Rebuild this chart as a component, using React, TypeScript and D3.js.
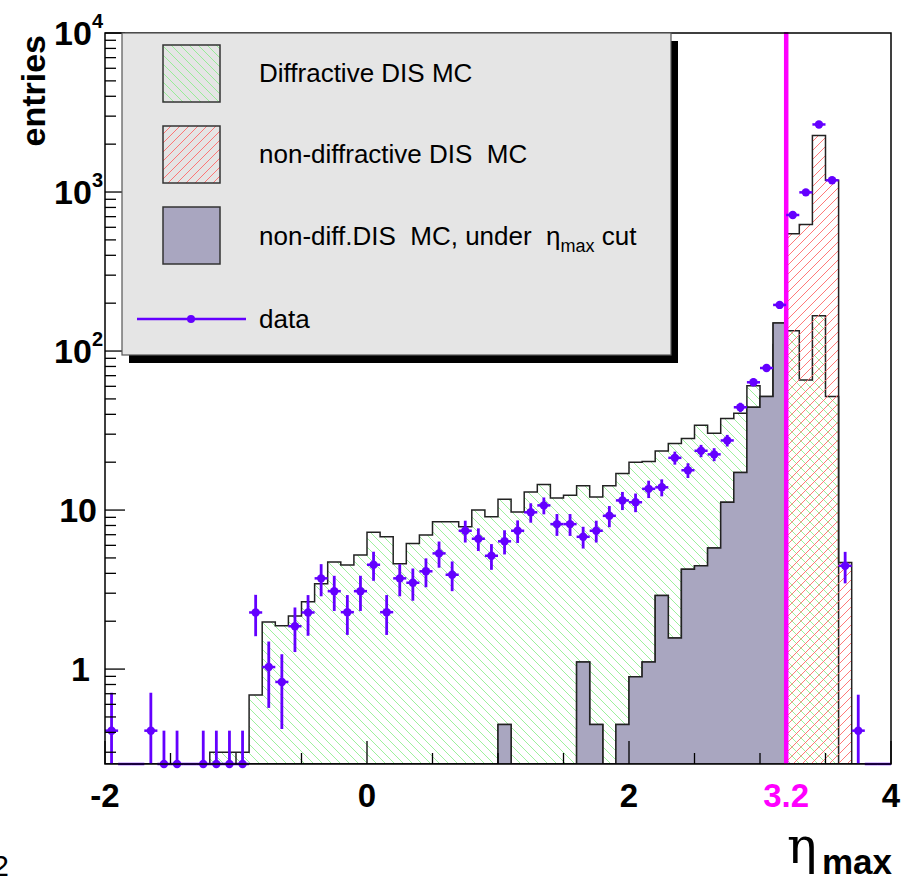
import React from 'react';
import * as d3 from 'd3';

// ---------- data ----------
const binLow = -2;
const binWidth = 0.1;
const etaCut = 3.2;

// Diffractive DIS MC (60 bins, -2..4)
const diffMC = [
  0, 0, 0, 0, 0, 0, 0, 0, 0.3, 0.3,
  0.3, 0.686, 1.98, 1.87, 2.16, 2.65, 3.44, 4.72, 4.51, 5.21,
  7.24, 6.79, 4.6, 6.17, 6.96, 8.44, 8.44, 7.85, 10.0, 9.08,
  11.7, 9.71, 13.0, 14.5, 11.9, 12.4, 14.2, 12.1, 14.2, 17.0,
  20.0, 20.2, 23.5, 26.2, 28.2, 34.1, 30.4, 37.7, 40.6, 60.5,
  45, 110, 134, 65.7, 167, 51.7, 0, 0, 0, 0,
];

// non-diffractive DIS MC (60 bins)
const nonDiffMC = [
  0, 0, 0, 0, 0, 0, 0, 0, 0, 0,
  0, 0, 0, 0, 0, 0, 0, 0, 0, 0,
  0, 0, 0, 0, 0, 0, 0, 0, 0, 0,
  0.449, 0, 0, 0, 0, 0, 1.11, 0.449, 0, 0.449,
  0.895, 1.11, 2.9, 1.57, 4.24, 4.46, 5.77, 11.2, 17.2, 44.3,
  51.7, 150, 546, 625, 2265, 1185, 4.68, 0, 0, 0,
];

// data points
const dataVal = [
  0.41, 0, 0, 0.41, 0, 0, 0, 0, 0, 0,
  0, 2.27, 1.03, 0.83, 1.86, 2.27, 3.72, 3.09, 2.28, 3.09,
  4.53, 2.28, 3.72, 3.49, 4.12, 5.34, 3.92, 7.41, 6.6, 5.16,
  6.36, 7.41, 9.68, 10.7, 8.16, 8.16, 6.79, 7.41, 9.2, 11.5,
  11.2, 13.6, 13.9, 21.3, 17.8, 23.6, 22.4, 27.4, 44.3, 63.6,
  78.2, 195, 717, 995, 2660, 1185, 4.46, 0.41, 0, 0,
];
const dataErr = [
  0.3, 0, 0, 0.3, 0.41, 0.41, 0, 0.41, 0.41, 0.41,
  0.41, 0.66, 0.46, 0.41, 0.58, 0.65, 0.85, 0.77, 0.64, 0.77,
  0.94, 0.64, 0.85, 0.8, 0.85, 1.0, 0.83, 1.16, 1.07, 0.95,
  1.1, 1.2, 1.35, 1.3, 1.28, 1.28, 1.06, 1.16, 1.4, 1.5,
  1.5, 1.7, 1.7, 2.0, 1.9, 2.1, 2.1, 2.3, 3.0, 3.5,
  4, 6, 12, 14, 23, 15, 1.0, 0.28, 0, 0,
];

const xTickValues = [-2, 0, 2, 4];
const xTickLabels = ['-2', '0', '2', '4'];
const yTickValues = [1, 10, 100, 1000, 10000];
const yTickLabels = [['1', ''], ['10', ''], ['10', '2'], ['10', '3'], ['10', '4']];
const legendLabels = ['Diffractive DIS MC', 'non-diffractive DIS  MC', 'non-diff.DIS  MC, under  ', 'data'];

// ---------- layout ----------
const W = 904;
const H = 877;
const L = 105, R = 891, T = 33, B = 764;
const yMin = 0.253, yMax = 1e4;
const FONT = '"Liberation Sans", Arial, Helvetica, sans-serif';
const DATA_C = '#6400ff';
const MAG = '#ff00ff';
const PURPLE = '#a9a6c0';

const x = d3.scaleLinear().domain([-2, 4]).range([L, R]);
const y = d3.scaleLog().domain([yMin, yMax]).range([B, T]);
const yc = (v: number) => (v > yMin ? Math.max(T, y(v)) : B);
const lo = (i: number) => binLow + i * binWidth;
const hi = (i: number) => binLow + (i + 1) * binWidth;

function stepPath(vals: number[], n: number) {
  let p = `M${x(lo(0))},${B}`;
  for (let i = 0; i < n; i++) {
    p += `L${x(lo(i))},${yc(vals[i])}L${x(hi(i))},${yc(vals[i])}`;
  }
  p += `L${x(hi(n - 1))},${B}Z`;
  return p;
}

export default function App() {
  const n = diffMC.length;
  const nCut = d3.range(n).filter((i) => lo(i) + binWidth / 2 < etaCut).length;
  const underCut = nonDiffMC.slice(0, nCut);

  const minorX = d3.range(-2, 4.001, 0.5).filter((v) => Math.abs(v - Math.round(v / 2) * 2) > 1e-6);
  const minorY: number[] = [];
  for (let d = -1; d <= 3; d++) for (let k = 2; k <= 9; k++) {
    const v = k * Math.pow(10, d);
    if (v > yMin && v < yMax) minorY.push(v);
  }

  const lgX = 122, lgY = 33, lgW = 549, lgH = 322;
  const swX = 163, swS = 57;
  const swY = [45, 126, 207];
  const txtX = 259;
  const txtBase = [82, 163, 245, 328];
  const pre = { whiteSpace: 'pre' as const };

  return (
    <svg width={W} height={H} style={{ display: 'block', position: 'absolute', left: 0, top: 0 }} fontFamily={FONT}>
      <defs>
        <pattern id="hGreen" patternUnits="userSpaceOnUse" width={9} height={9}>
          <path d="M-2,-2L11,11M-2,7L2,11M7,-2L11,2" stroke="#84ee84" strokeWidth={0.8} fill="none" />
        </pattern>
        <pattern id="hRed" patternUnits="userSpaceOnUse" width={9} height={9}>
          <path d="M-2,11L11,-2M-2,2L2,-2M7,11L11,7" stroke="#ff6a6a" strokeWidth={0.9} fill="none" />
        </pattern>
        <clipPath id="plotClip">
          <rect x={L} y={T} width={R - L} height={B - T} />
        </clipPath>
      </defs>
      <rect x={0} y={0} width={W} height={H} fill="#fff" />

      <g clipPath="url(#plotClip)">
        {/* diffractive */}
        <path d={stepPath(diffMC, n)} fill="url(#hGreen)" stroke="#222" strokeWidth={1.5} />
        {/* non-diffractive */}
        <path d={stepPath(nonDiffMC, n)} fill="url(#hRed)" stroke="#222" strokeWidth={1.5} />
        {/* non-diff under cut */}
        <path d={stepPath(underCut, nCut)} fill={PURPLE} stroke="#222" strokeWidth={1.5} />
      </g>

      {/* magenta cut line */}
      <line x1={x(etaCut)} x2={x(etaCut)} y1={T - 1} y2={B} stroke={MAG} strokeWidth={4.5} />

      {/* data */}
      <g stroke={DATA_C} fill={DATA_C}>
        {dataVal.map((v, i) => {
          const cx = x(lo(i) + binWidth / 2);
          const cy = yc(v);
          const e = dataErr[i];
          const showMarker = v > 0 || e > 0;
          return (
            <g key={i}>
              <line x1={x(lo(i))} x2={x(hi(i))} y1={cy} y2={cy} strokeWidth={2.5} />
              {e > 0 && <line x1={cx} x2={cx} y1={yc(v + e)} y2={yc(v - e)} strokeWidth={2.8} />}
              {showMarker && <circle cx={cx} cy={cy} r={4.2} stroke="none" />}
            </g>
          );
        })}
      </g>

      {/* frame */}
      <rect x={L} y={T} width={R - L} height={B - T} fill="none" stroke="#000" strokeWidth={1.5} />

      {/* x ticks */}
      {xTickValues.map((v) => (
        <line key={'xt' + v} x1={x(v)} x2={x(v)} y1={B} y2={B - 23} stroke="#000" strokeWidth={1.3} />
      ))}
      {minorX.map((v) => (
        <line key={'xm' + v} x1={x(v)} x2={x(v)} y1={B} y2={B - 11} stroke="#000" strokeWidth={1.3} />
      ))}
      {xTickValues.map((v, i) => (
        <text key={'xl' + v} x={x(v)} y={807} textAnchor="middle" fontSize={33} fontWeight="bold" fill="#000">
          {xTickLabels[i]}
        </text>
      ))}
      <text x={x(etaCut)} y={807} textAnchor="middle" fontSize={33} fontWeight="bold" fill={MAG}>
        {String(etaCut)}
      </text>

      {/* y ticks */}
      {yTickValues.map((v) => (
        <line key={'yt' + v} x1={L} x2={L + 20} y1={y(v)} y2={y(v)} stroke="#000" strokeWidth={1.3} />
      ))}
      {minorY.map((v) => (
        <line key={'ym' + v} x1={L} x2={L + 11} y1={y(v)} y2={y(v)} stroke="#000" strokeWidth={1.3} />
      ))}
      {yTickValues.map((v, i) => (
        <text key={'yl' + v} x={yTickLabels[i][1] ? 103 : yTickLabels[i][0].length > 1 ? 97 : 90} y={y(v) + 12} textAnchor="end" fontSize={34} fontWeight="bold" fill="#000">
          {yTickLabels[i][0]}
          {yTickLabels[i][1] && (
            <tspan fontSize={20} dy={-17}>{yTickLabels[i][1]}</tspan>
          )}
        </text>
      ))}

      {/* axis titles */}
      <text transform={`translate(45,35) rotate(-90)`} textAnchor="end" fontSize={34} fontWeight="bold" fill="#000">
        entries
      </text>
      <text x={787} y={863} fontSize={50} fill="#000" fontFamily='"DejaVu Serif", serif'>
        η
      </text>
      <text x={822} y={874} fontSize={35} fontWeight="bold" fill="#000">
        max
      </text>
      <text x={9} y={876} textAnchor="end" fontSize={30} fill="#000">2</text>

      {/* legend */}
      <rect x={lgX + 7} y={lgY + 8} width={lgW} height={lgH} fill="#000" />
      <rect x={lgX} y={lgY} width={lgW} height={lgH} fill="#e5e5e5" stroke="#555" strokeWidth={1.2} />
      <rect x={swX} y={swY[0]} width={swS} height={swS} fill="url(#hGreen)" stroke="#333" strokeWidth={1.5} />
      <rect x={swX} y={swY[1]} width={swS} height={swS} fill="url(#hRed)" stroke="#333" strokeWidth={1.5} />
      <rect x={swX} y={swY[2]} width={swS} height={swS} fill={PURPLE} stroke="#333" strokeWidth={1.5} />
      <line x1={137} x2={246} y1={319} y2={319} stroke={DATA_C} strokeWidth={2.5} />
      <circle cx={191} cy={319} r={4} fill={DATA_C} />
      <g fontSize={26} fill="#000">
        <text x={txtX} y={txtBase[0]} xmlSpace="preserve" style={pre}>{legendLabels[0]}</text>
        <text x={txtX} y={txtBase[1]} xmlSpace="preserve" style={pre}>{legendLabels[1]}</text>
        <text x={txtX} y={txtBase[2]} xmlSpace="preserve" style={pre}>
          {legendLabels[2]}
          <tspan>η</tspan>
          <tspan fontSize={18} dy={7}>max</tspan>
          <tspan dy={-7}> cut</tspan>
        </text>
        <text x={txtX} y={txtBase[3]} xmlSpace="preserve" style={pre}>{legendLabels[3]}</text>
      </g>
    </svg>
  );
}
